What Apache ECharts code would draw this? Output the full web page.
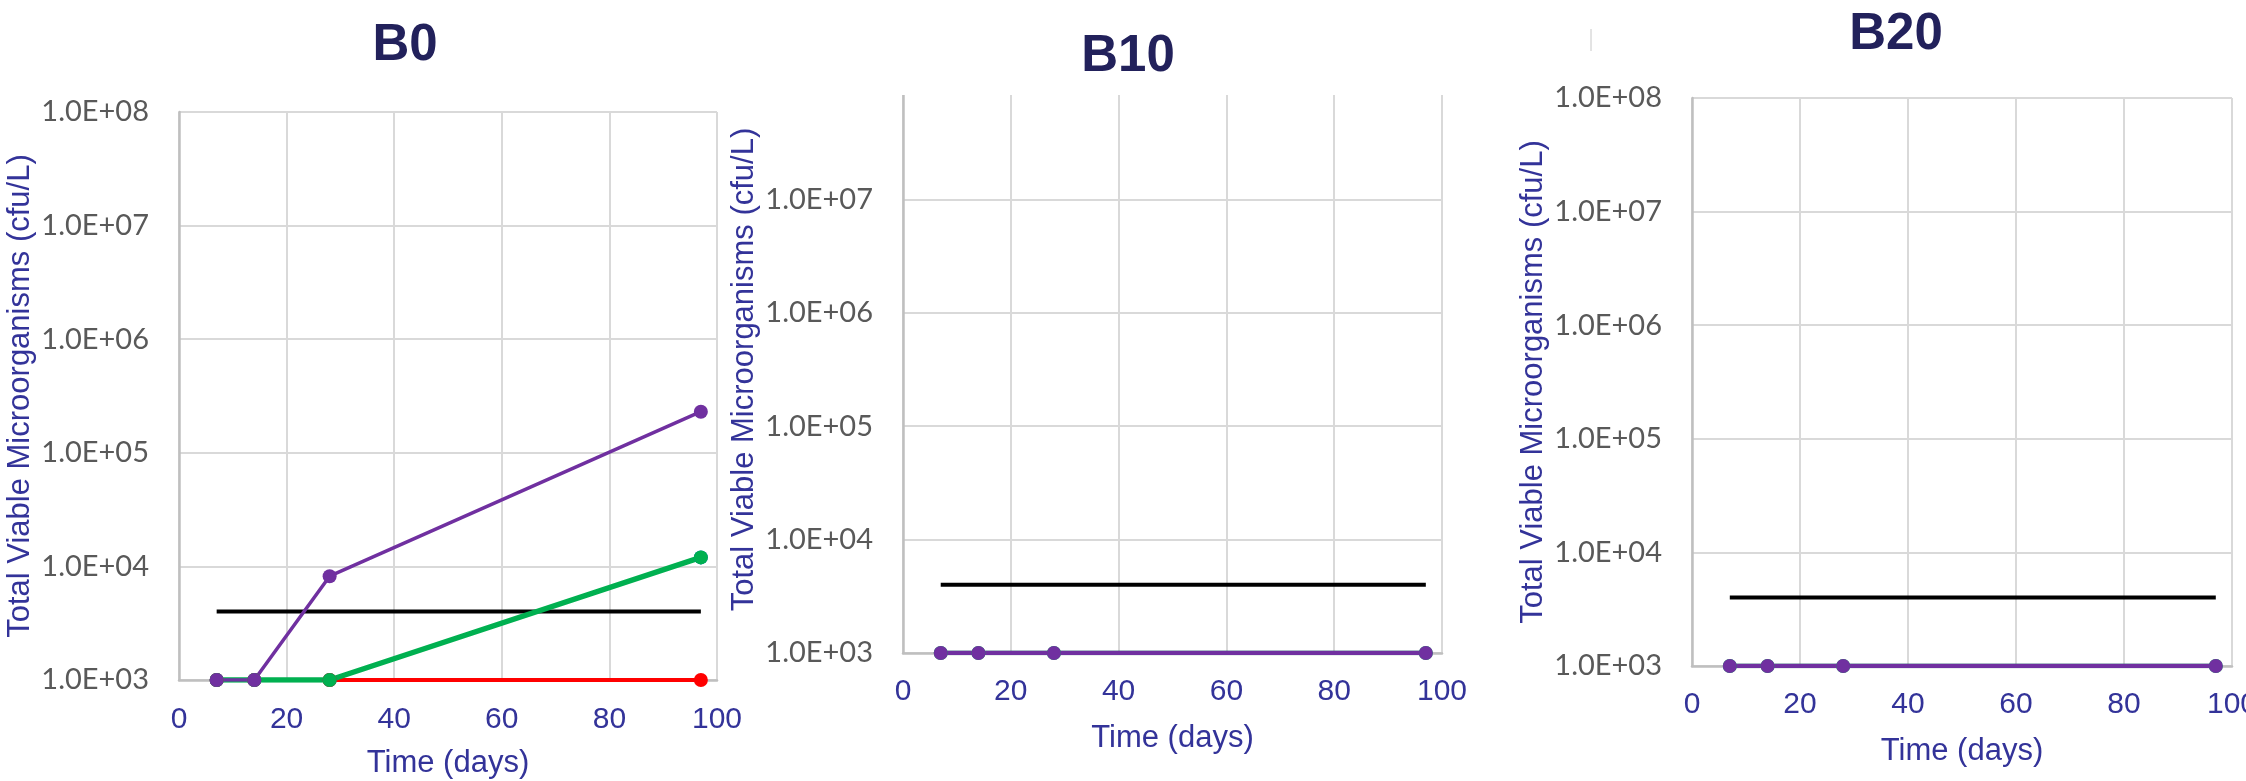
<!DOCTYPE html>
<html>
<head>
<meta charset="utf-8">
<script src="https://cdn.jsdelivr.net/npm/echarts@6/dist/echarts.min.js"></script>
<style>
  html, body { margin: 0; padding: 0; background: #ffffff; }
  #chart { width: 2246px; height: 781px; }
</style>
</head>
<body>
<div id="chart"></div>
<script>
// Panel titles
const panelTitles = ['B0', 'B10', 'B20'];

// Sampling days
const days = [7, 14, 28, 97];

// Reference limit line (cfu/L)
const limitDays = [7, 97];
const limitValues = [4000, 4000];

// B0 counts (cfu/L)
const b0Blue   = [1000, 1000, 1000, 12000];
const b0Red    = [1000, 1000, 1000, 1000];
const b0Green  = [1000, 1000, 1000, 12000];
const b0Purple = [1000, 1000, 8200, 230000];

// B10 counts (cfu/L)
const b10Green  = [1000, 1000, 1000, 1000];
const b10Purple = [1000, 1000, 1000, 1000];

// B20 counts (cfu/L)
const b20Green  = [1000, 1000, 1000, 1000];
const b20Purple = [1000, 1000, 1000, 1000];

// Axis tick labels
const yTickLabels = ['1.0E+03', '1.0E+04', '1.0E+05', '1.0E+06', '1.0E+07', '1.0E+08'];
const xMax = 100;
const xAxisName = 'Time (days)';
const yAxisName = 'Total Viable Microorganisms (cfu/L)';

const COLORS = {
  blue: '#0070C0', red: '#FF0000', green: '#00B050', purple: '#7030A0', black: '#000000'
};
const X_LABEL_FONT = { fontFamily: 'Liberation Sans', fontSize: 30, color: '#333399' };

function pairs(xs, ys) { return xs.map((x, i) => [x, ys[i]]); }

// Layout of the three plot areas
const grids = [
  { left: 179,  top: 112, width: 538, height: 568, outerBoundsMode: 'none' },
  { left: 903,  top: 86,  width: 539, height: 567, outerBoundsMode: 'none' },
  { left: 1692, top: 98,  width: 540, height: 568, outerBoundsMode: 'none' }
];
const titlePos = [
  { x: 405,  top: 20 },
  { x: 1128, top: 31 },
  { x: 1896, top: 9 }
];
const xLabelMargin = [25, 24, 24];

const xAxes = grids.map((g, i) => ({
  type: 'value', gridIndex: i, min: 0, max: xMax, interval: 20,
  name: xAxisName, nameLocation: 'middle', nameGap: i === 0 ? 68 : 70,
  nameTextStyle: { fontFamily: 'Liberation Sans', fontSize: 31, color: '#333399' },
  axisLine: { show: true, lineStyle: { color: '#BFBFBF', width: 2.5 } },
  axisTick: { show: false },
  // the last panel's end label runs past the page edge, so it is placed separately below
  axisLabel: Object.assign({ margin: xLabelMargin[i], showMaxLabel: i !== 2 }, X_LABEL_FONT),
  splitLine: { show: true, lineStyle: { color: '#D9D9D9', width: 2 } }
}));

const yAxes = grids.map((g, i) => ({
  type: 'log', logBase: 10, gridIndex: i, min: 1000, max: 1e8, splitNumber: 5,
  name: yAxisName, nameLocation: 'middle', nameRotate: 90, nameGap: 143,
  nameTextStyle: { fontFamily: 'Liberation Sans', fontSize: 31, color: '#333399' },
  axisLine: { show: true, lineStyle: { color: '#BFBFBF', width: 2.5 } },
  axisTick: { show: false },
  axisLabel: {
    fontFamily: 'Lato', fontSize: 29, color: '#595959', margin: 30,
    formatter: v => yTickLabels[Math.round(Math.log10(v)) - 3]
  },
  splitLine: { show: true, lineStyle: { color: '#D9D9D9', width: 2 } }
}));

function limitSeries(i) {
  return {
    type: 'line', xAxisIndex: i, yAxisIndex: i, data: pairs(limitDays, limitValues),
    showSymbol: false, symbol: 'none', lineStyle: { color: COLORS.black, width: 4 },
    itemStyle: { color: COLORS.black }, z: 1
  };
}
function countSeries(i, values, color, width) {
  return {
    type: 'line', xAxisIndex: i, yAxisIndex: i, data: pairs(days, values),
    symbol: 'circle', symbolSize: 14,
    lineStyle: { color: color, width: width },
    itemStyle: { color: color, borderWidth: 0 }
  };
}

const series = [
  limitSeries(0),
  countSeries(0, b0Blue, COLORS.blue, 3),
  countSeries(0, b0Red, COLORS.red, 4),
  countSeries(0, b0Green, COLORS.green, 5.5),
  countSeries(0, b0Purple, COLORS.purple, 3.5),
  limitSeries(1),
  countSeries(1, b10Green, COLORS.green, 4.5),
  countSeries(1, b10Purple, COLORS.purple, 4.5),
  limitSeries(2),
  countSeries(2, b20Green, COLORS.green, 4.5),
  countSeries(2, b20Purple, COLORS.purple, 4.5)
];

const chart = echarts.init(document.getElementById('chart'), null, { renderer: 'canvas' });
chart.setOption({
  animation: false,
  backgroundColor: '#ffffff',
  title: panelTitles.map((t, i) => ({
    text: t, left: titlePos[i].x, top: titlePos[i].top, textAlign: 'center', padding: 0, z: 100,
    textStyle: { fontFamily: 'Liberation Sans', fontSize: 51, fontWeight: 'bold', color: '#22215B' }
  })),
  grid: grids,
  xAxis: xAxes,
  yAxis: yAxes,
  series: series,
  graphic: {
    elements: [
      // the B10 plot is trimmed along its top edge
      { id: 'trim', type: 'rect', z: 50, shape: { x: 760, y: 0, width: 720, height: 95 }, style: { fill: '#ffffff' } },
      { id: 'tick', type: 'line', z: 50, shape: { x1: 1591, y1: 29, x2: 1591, y2: 51 }, style: { stroke: '#C8C8C8', lineWidth: 1 } }
    ]
  }
});

// end label of the B20 time axis, anchored to the axis end and allowed to run off the page
const endPt = chart.convertToPixel({ xAxisIndex: 2, yAxisIndex: 2 }, [xMax, 1000]);
chart.setOption({
  graphic: {
    elements: [{
      id: 'xEndLabel', type: 'text', z: 10,
      x: endPt[0], y: endPt[1] + xLabelMargin[2],
      style: {
        text: String(xMax), align: 'center', verticalAlign: 'top',
        fontFamily: X_LABEL_FONT.fontFamily, fontSize: X_LABEL_FONT.fontSize, fill: X_LABEL_FONT.color
      }
    }]
  }
});
</script>
</body>
</html>
